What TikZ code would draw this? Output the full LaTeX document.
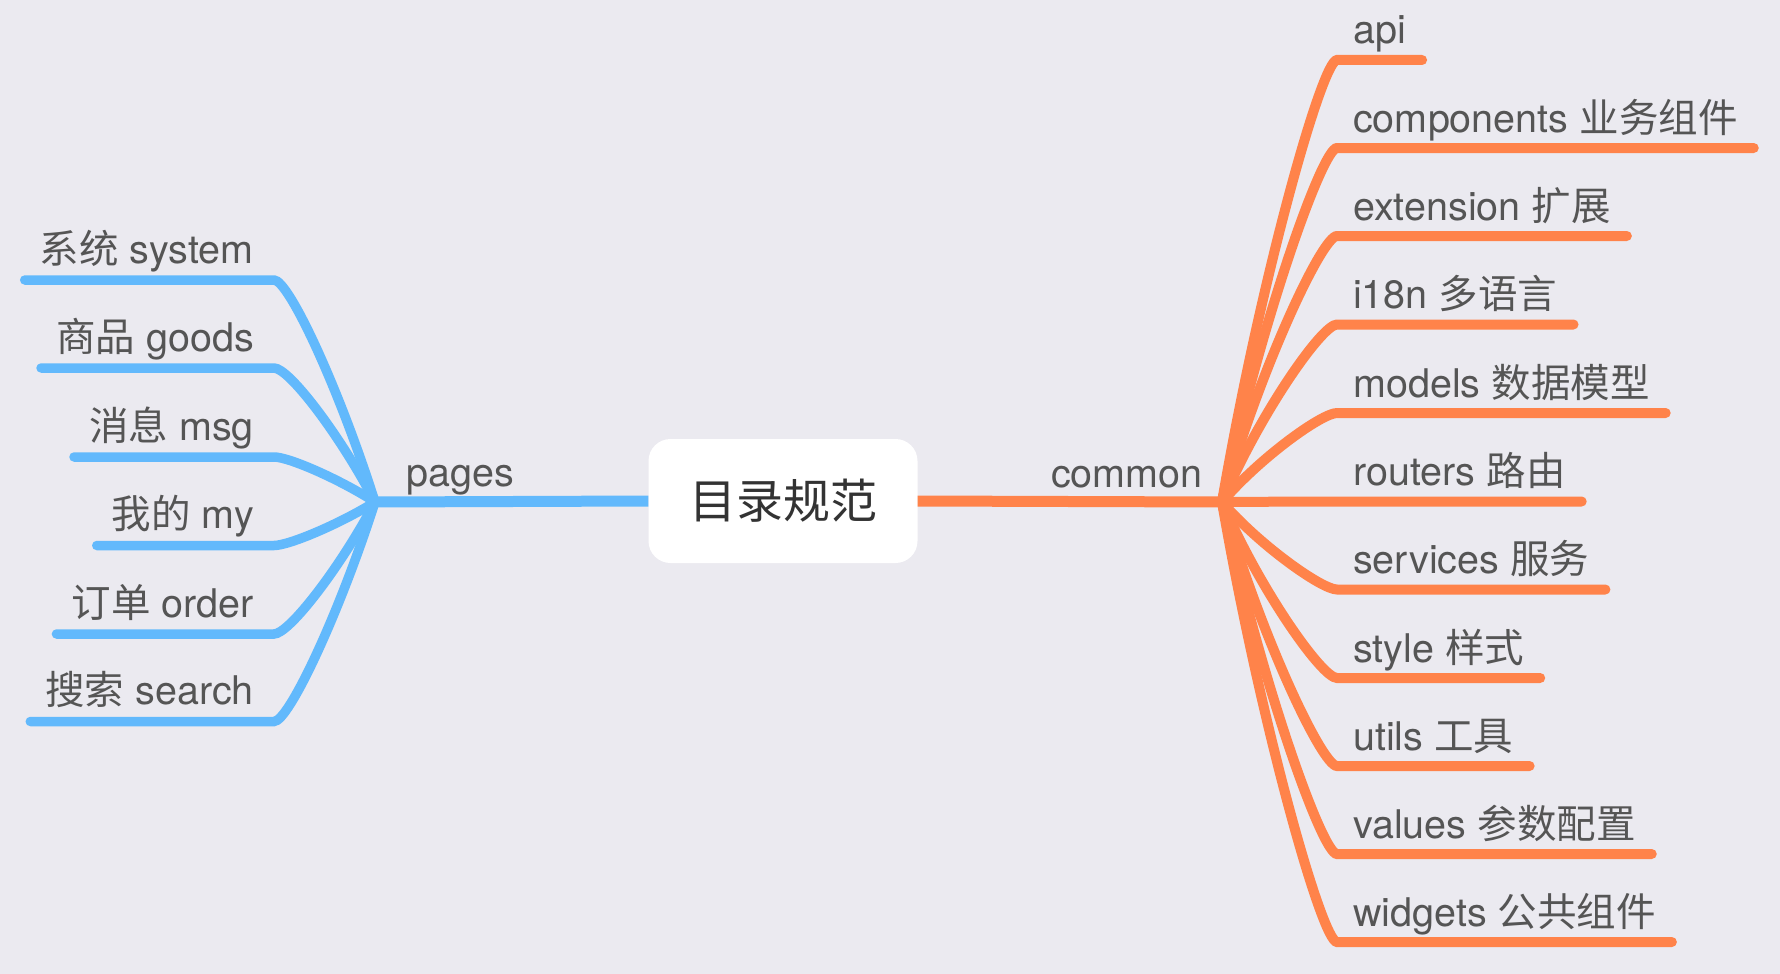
\documentclass[tikz,border=0pt]{standalone}
\usepackage{fontspec}
\setmainfont{TeX Gyre Heros}
\newfontfamily\cjk{Noto Sans CJK SC}
\usepackage{tikz}
\usetikzlibrary{positioning}
\tikzstyle{mindMap} = [x = 1pt, y = -1pt]
\definecolor{backColor}{RGB}{235,234,240}
\definecolor{pagesColor}{RGB}{98,185,252}
\definecolor{commonColor}{RGB}{255,131,74}
\definecolor{leafColor}{RGB}{85,85,85}
\definecolor{rootColor}{RGB}{51,51,51}
\tikzstyle{rootBox} = [fill=white, rounded corners = 22pt, minimum width = 269pt, minimum height = 124pt, text=rootColor, font=\cjk\fontsize{47}{56}\selectfont]
\tikzstyle{leafText} = [inner sep=0pt, text=leafColor, font=\fontsize{39.5}{47}\selectfont]
\tikzstyle{pagesLine} = [color=pagesColor, line width=9.5pt, line cap=round]
\tikzstyle{commonLine} = [color=commonColor, line width=10pt, line cap=round]
\newcommand{\pagesLeaf}[3]{
  \pgfmathsetmacro{\midY}{(502 + #2) / 2}
  \node [leafText, anchor=base east] (#1) at (254, #2 - 17) {#3};
  \coordinate (#1Corner) at (274, #2);
  \draw [pagesLine] (pagesHub) .. controls (340, \midY) and (289, #2) .. (#1Corner) -- ([xshift=-15pt]#1.west |- #1Corner);
}
\newcommand{\commonLeaf}[3]{
  \pgfmathsetmacro{\midY}{(502 + #2) / 2}
  \node [leafText, anchor=base west] (#1) at (1353, #2 - 16) {#3};
  \coordinate (#1Corner) at (1337, #2);
  \draw [commonLine] (commonHub) .. controls (1260, \midY) and (1322, #2) .. (#1Corner) -- ([xshift=16pt]#1.east |- #1Corner);
}

\begin{document}
\begin{tikzpicture}[mindMap]
          \fill [backColor] (0,0) rectangle (1780,974);
          \useasboundingbox (0,0) rectangle (1780,974);
          \node [rootBox] (root) at (783, 501) {目录规范};
          \coordinate (pagesHub) at (375, 502);
          \coordinate (commonHub) at (1222, 502);
          \draw [pagesLine, line width=11pt, line cap=butt] (root.west) -- (pagesHub);
          \draw [commonLine, line width=11pt, line cap=butt] (root.east) -- (commonHub);
          \node [leafText, anchor=base west] (pages) at (406, 486) {pages};
          \node [leafText, anchor=base west] (common) at (1051, 487) {common};

          \pagesLeaf{system}{280}{{\cjk 系统} system}
          \pagesLeaf{goods}{368}{{\cjk 商品} goods}
          \pagesLeaf{msg}{457}{{\cjk 消息} msg}
          \pagesLeaf{my}{545.5}{{\cjk 我的} my}
          \pagesLeaf{order}{634}{{\cjk 订单} order}
          \pagesLeaf{search}{721.5}{{\cjk 搜索} search}

          \commonLeaf{api}{60}{api}
          \commonLeaf{components}{148}{components {\cjk 业务组件}}
          \commonLeaf{extension}{236}{extension {\cjk 扩展}}
          \commonLeaf{i18n}{324.5}{i18n {\cjk 多语言}}
          \commonLeaf{models}{413}{models {\cjk 数据模型}}
          \commonLeaf{routers}{501.5}{routers {\cjk 路由}}
          \commonLeaf{services}{589.5}{services {\cjk 服务}}
          \commonLeaf{style}{678}{style {\cjk 样式}}
          \commonLeaf{utils}{766}{utils {\cjk 工具}}
          \commonLeaf{values}{854}{values {\cjk 参数配置}}
          \commonLeaf{widgets}{942}{widgets {\cjk 公共组件}}
        \end{tikzpicture}
\end{document}
